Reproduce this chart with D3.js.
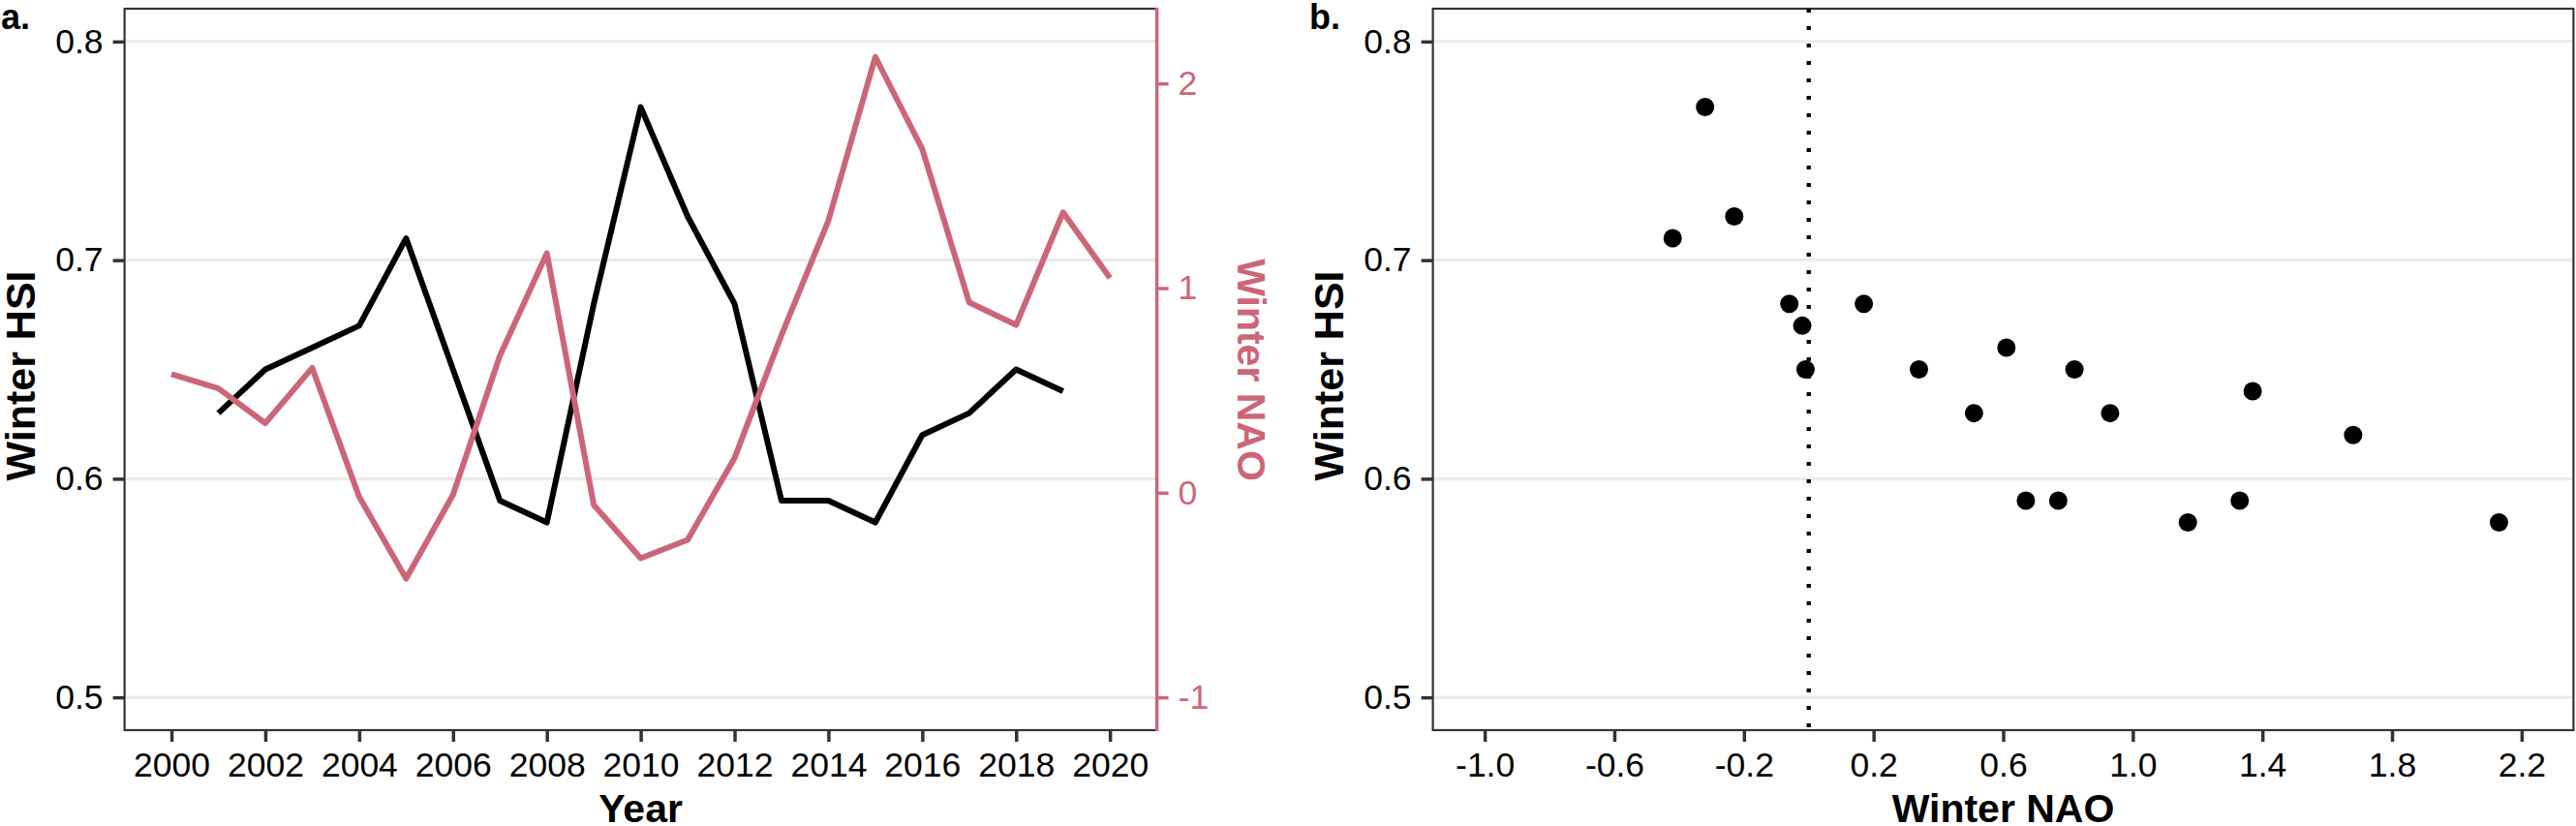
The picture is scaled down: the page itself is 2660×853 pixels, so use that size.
<!DOCTYPE html>
<html>
<head>
<meta charset="utf-8">
<script src="https://cdn.jsdelivr.net/npm/d3@7"></script>
<style>
  html, body { margin: 0; padding: 0; background: #fff; }
  svg { display: block; font-family: 'Liberation Sans', Arial, Helvetica, sans-serif; }
</style>
</head>
<body>
<div id="chart"></div>
<script>
// winter data, one entry per year
const years = [2000, 2001, 2002, 2003, 2004, 2005, 2006, 2007, 2008, 2009, 2010,
  2011, 2012, 2013, 2014, 2015, 2016, 2017, 2018, 2019, 2020];
const hsi = [null, 0.63, 0.65, 0.66, 0.67, 0.71, 0.65, 0.59, 0.58, 0.68, 0.77,
  0.72, 0.68, 0.59, 0.59, 0.58, 0.62, 0.63, 0.65, 0.64, null];
const nao = [0.58, 0.51, 0.34, 0.61, -0.02, -0.42, -0.01, 0.67, 1.17, -0.06, -0.32,
  -0.23, 0.17, 0.77, 1.33, 2.13, 1.68, 0.93, 0.82, 1.37, 1.05];

// tick labels
const yearTicks = [2000, 2002, 2004, 2006, 2008, 2010, 2012, 2014, 2016, 2018, 2020];
const hsiTicks = [0.5, 0.6, 0.7, 0.8];
const naoTicks = [-1, 0, 1, 2];
const naoXTicks = [-1.0, -0.6, -0.2, 0.2, 0.6, 1.0, 1.4, 1.8, 2.2];

const PINK = '#CC6677';
const AXIS = '#333333';
const GRID = '#EBEBEB';

const width = 2660;
const height = 853;

const svg = d3.select('#chart').append('svg')
  .attr('width', width)
  .attr('height', height);

svg.append('rect').attr('width', width).attr('height', height).attr('fill', '#fff');

const rows = years.map((year, i) => ({ year, hsi: hsi[i], nao: nao[i] }));

// shared vertical scale (HSI), same for both panels
const plotTop = 9;
const plotBottom = 754;
const y = d3.scaleLinear().domain([0.485, 0.815]).range([plotBottom, plotTop]);

// secondary axis: NAO = (HSI - 0.5) / 0.0936 - 1
const yNao = d3.scaleLinear()
  .domain(y.domain().map(h => (h - 0.5) / 0.0936 - 1))
  .range(y.range());

// panel a. x scale
const xA = d3.scaleLinear().domain([1999, 2021]).range([128.6, 1194.6]);
// panel b. x scale
const xB = d3.scaleLinear().domain([-1.16, 2.36]).range([1479.6, 2657.4]);

const minus = s => s.replace('\u2212', '-');

function styleAxis(g, color, textColor) {
  g.select('.domain').remove();
  g.selectAll('.tick line')
    .attr('stroke', color)
    .attr('stroke-width', 3.5);
  g.selectAll('.tick text')
    .attr('fill', textColor || color)
    .attr('font-size', '35.5px')
    .attr('font-family', "'Liberation Sans', Arial, sans-serif");
}

function panel(x, label, labelX, yTitleX) {
  const [x0, x1] = x.range();

  // horizontal grid lines
  svg.append('g')
    .selectAll('line')
    .data(hsiTicks)
    .join('line')
      .attr('x1', x0)
      .attr('x2', x1)
      .attr('y1', d => y(d))
      .attr('y2', d => y(d))
      .attr('stroke', GRID)
      .attr('stroke-width', 3.5)
  ;

  // panel border
  svg.append('rect')
    .attr('x', x0)
    .attr('y', plotTop)
    .attr('width', x1 - x0)
    .attr('height', plotBottom - plotTop)
    .attr('fill', 'none')
    .attr('stroke', AXIS)
    .attr('stroke-width', 2.2)
  ;

  // left axis
  svg.append('g')
    .attr('transform', `translate(${x0},0)`)
    .call(d3.axisLeft(y).tickValues(hsiTicks).tickSize(12).tickPadding(10).tickFormat(d3.format('.1f')))
    .call(g => styleAxis(g, AXIS, '#000'))
  ;

  // y title
  svg.append('text')
    .attr('transform', `translate(${yTitleX},388) rotate(-90)`)
    .attr('text-anchor', 'middle')
    .attr('font-size', '43px')
    .attr('font-weight', 'bold')
    .attr('fill', '#000')
    .text('Winter HSI')
  ;

  // panel letter
  svg.append('text')
    .attr('x', labelX)
    .attr('y', 30)
    .attr('font-size', '36px')
    .attr('font-weight', 'bold')
    .attr('fill', '#000')
    .text(label)
  ;

  return { x0, x1 };
}

// ---- panel a. ----
const a = panel(xA, 'a.', 1, 36);

svg.append('g')
  .attr('transform', `translate(0,${plotBottom})`)
  .call(d3.axisBottom(xA).tickValues(yearTicks).tickSize(12).tickPadding(11).tickFormat(d3.format('d')))
  .call(g => styleAxis(g, AXIS, '#000'))
;

svg.append('text')
  .attr('x', (a.x0 + a.x1) / 2)
  .attr('y', 849)
  .attr('text-anchor', 'middle')
  .attr('font-size', '41px')
  .attr('font-weight', 'bold')
  .text('Year')
;

// HSI line
const hsiLine = d3.line()
  .defined(d => d.hsi != null)
  .x(d => xA(d.year))
  .y(d => y(d.hsi))
;

svg.append('path')
  .datum(rows)
  .attr('fill', 'none')
  .attr('stroke', '#000')
  .attr('stroke-width', 6)
  .attr('stroke-linejoin', 'round')
  .attr('d', hsiLine)
;

// NAO line
const naoLine = d3.line()
  .x(d => xA(d.year))
  .y(d => yNao(d.nao))
;

svg.append('path')
  .datum(rows)
  .attr('fill', 'none')
  .attr('stroke', PINK)
  .attr('stroke-width', 6)
  .attr('stroke-linejoin', 'round')
  .attr('d', naoLine)
;

// right (secondary) axis
svg.append('g')
  .attr('transform', `translate(${a.x1},0)`)
  .call(d3.axisRight(yNao).tickValues(naoTicks).tickSize(12).tickPadding(10).tickFormat(d => minus(d3.format('d')(d))))
  .call(g => styleAxis(g, PINK))
;

svg.append('line')
  .attr('x1', a.x1)
  .attr('x2', a.x1)
  .attr('y1', plotTop - 1)
  .attr('y2', plotBottom + 1)
  .attr('stroke', PINK)
  .attr('stroke-width', 3.5)
;

svg.append('text')
  .attr('transform', `translate(1278,382) rotate(90)`)
  .attr('text-anchor', 'middle')
  .attr('font-size', '41px')
  .attr('font-weight', 'bold')
  .attr('fill', PINK)
  .text('Winter NAO')
;

// ---- panel b. ----
const b = panel(xB, 'b.', 1352, 1387);

svg.append('g')
  .attr('transform', `translate(0,${plotBottom})`)
  .call(d3.axisBottom(xB).tickValues(naoXTicks).tickSize(12).tickPadding(11).tickFormat(d => minus(d3.format('.1f')(d))))
  .call(g => styleAxis(g, AXIS, '#000'))
;

svg.append('text')
  .attr('x', (b.x0 + b.x1) / 2)
  .attr('y', 849)
  .attr('text-anchor', 'middle')
  .attr('font-size', '41px')
  .attr('font-weight', 'bold')
  .text('Winter NAO')
;

// zero reference line
svg.append('line')
  .attr('x1', xB(0))
  .attr('x2', xB(0))
  .attr('y1', plotTop)
  .attr('y2', plotBottom)
  .attr('stroke', '#000')
  .attr('stroke-width', 4.3)
  .attr('stroke-dasharray', '4,14')
;

svg.append('g')
  .selectAll('circle')
  .data(rows.filter(d => d.hsi != null))
  .join('circle')
    .attr('cx', d => xB(d.nao))
    .attr('cy', d => y(d.hsi))
    .attr('r', 9.5)
    .attr('fill', '#000')
;
</script>
</body>
</html>
